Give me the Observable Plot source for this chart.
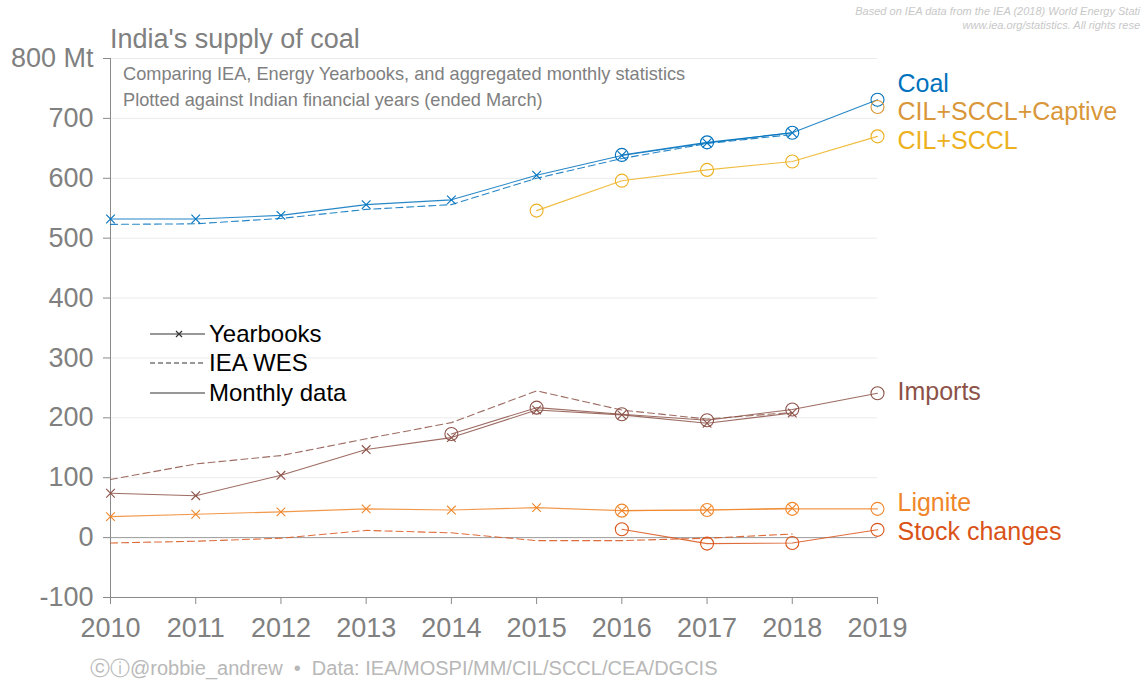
<!DOCTYPE html>
<html>
<head>
<meta charset="utf-8">
<script src="https://cdn.jsdelivr.net/npm/d3@7"></script>
<script src="https://cdn.jsdelivr.net/npm/@observablehq/plot@0.6"></script>
<style>
  html, body { margin: 0; padding: 0; background: #fff; overflow: hidden; }
  #wrap { position: relative; width: 1142px; height: 682px; overflow: hidden; font-family: "Liberation Sans", Arial, Helvetica, sans-serif; }
  #chart { position: absolute; left: 0; top: 0; }
  .abs { position: absolute; white-space: nowrap; }
  #title { left: 110px; top: 24px; font-size: 27px; color: #808080; }
  #sub { left: 123px; top: 61px; font-size: 18.2px; line-height: 26px; color: #808080; }
  #note { right: 2px; top: 4px; font-size: 11px; line-height: 14px; color: #c8c8c8; font-style: italic; text-align: right; }
  #foot { left: 90px; top: 655px; font-size: 20px; color: #b8b8b8; }
  #legend { left: 150px; top: 319px; font-size: 24px; color: #000; }
  #legend .row { height: 29.5px; display: flex; align-items: center; }
  #legend svg { margin-right: 4px; }
</style>
</head>
<body>
<div id="wrap">
  <div id="chart"></div>
  <div id="title" class="abs">India's supply of coal</div>
  <div id="sub" class="abs">Comparing IEA, Energy Yearbooks, and aggregated monthly statistics<br>Plotted against Indian financial years (ended March)</div>
  <div id="note" class="abs">Based on IEA data from the IEA (2018) World Energy Stati<br>www.iea.org/statistics. All rights rese</div>
  <div id="legend" class="abs"></div>
  <div id="foot" class="abs">ⓒⓘ@robbie_andrew &nbsp;•&nbsp; Data: IEA/MOSPI/MM/CIL/SCCL/CEA/DGCIS</div>
</div>
<script>
// ---- data (Mt) ----
const years = [2010, 2011, 2012, 2013, 2014, 2015, 2016, 2017, 2018, 2019];
const yTicks = [-100, 0, 100, 200, 300, 400, 500, 600, 700, 800];

const coalYearbooks   = [532, 532, 538, 556, 564, 605, 638, 659, 676, null];
const coalWES         = [523, 524, 533, 548, 556, 600, 633, 658, 673, null];
const coalMonthly     = [null, null, null, null, null, null, 639, 660, 676, 731];
const captiveMonthly  = [null, null, null, null, null, null, null, null, null, 719];
const cilSccl         = [null, null, null, null, null, 546, 596, 614, 628, 670];
const importsYearbooks= [74, 70, 104, 147, 167, 213, 205, 191, 208, null];
const importsWES      = [97, 123, 137, 165, 192, 245, 213, 198, 209, null];
const importsMonthly  = [null, null, null, null, 173, 217, 206, 196, 214, 241];
const ligniteYearbooks= [35, 39, 43, 48, 46, 50, 45, 46, 49, null];
const ligniteMonthly  = [null, null, null, null, null, null, 45, 46, 48, 48];
const stockWES        = [-9, -6, -1, 12, 8, -5, -5, -1, 6, null];
const stockMonthly    = [null, null, null, null, null, null, 14, -10, -9, 13];

const seriesNames  = ["Coal", "CIL+SCCL+Captive", "CIL+SCCL", "Imports", "Lignite", "Stock changes"];
const seriesColors = ["#0072bd", "#d9973a", "#edb120", "#8c5248", "#f0862a", "#d95319"];
const labelY       = [758, 710, 662, 243, 58, 10];

const color = Object.fromEntries(seriesNames.map((n, i) => [n, seriesColors[i]]));

function rows(values, series, source) {
  return years.map((year, i) => ({year, value: values[i], series, source}))
              .filter(d => d.value != null);
}

const yearbooks = [
  ...rows(coalYearbooks, "Coal", "yb"),
  ...rows(importsYearbooks, "Imports", "yb"),
  ...rows(ligniteYearbooks, "Lignite", "yb")
];
const wes = [
  ...rows(coalWES, "Coal", "wes"),
  ...rows(importsWES, "Imports", "wes"),
  ...rows(stockWES, "Stock changes", "wes")
];
const monthly = [
  ...rows(coalMonthly, "Coal", "m"),
  ...rows(captiveMonthly, "CIL+SCCL+Captive", "m"),
  ...rows(cilSccl, "CIL+SCCL", "m"),
  ...rows(importsMonthly, "Imports", "m"),
  ...rows(ligniteMonthly, "Lignite", "m"),
  ...rows(stockMonthly, "Stock changes", "m")
];
const labels = seriesNames.map((name, i) => ({name, value: labelY[i]}));

const strokeOf = d => color[d.series];

const chart = Plot.plot({
  width: 1142,
  height: 682,
  marginLeft: 110,
  marginRight: 265,
  marginTop: 58,
  marginBottom: 85,
  style: {fontFamily: '"Liberation Sans", Arial, Helvetica, sans-serif', color: "#808080", background: "transparent", overflow: "visible"},
  x: {domain: [2010, 2019]},
  y: {domain: [-100, 800]},
  marks: [
    Plot.ruleY(yTicks.filter(v => v !== -100 && v !== 0), {x1: 2010, x2: 2019, stroke: "#ebebeb", strokeWidth: 1}),
    Plot.ruleY([0], {x1: 2010, x2: 2019, stroke: "#9a9a9a", strokeWidth: 1}),
    Plot.ruleY([-100], {x1: 2010, x2: 2019, stroke: "#8a8a8a", strokeWidth: 1}),
    Plot.ruleX([2010], {y1: -100, y2: 800, stroke: "#8a8a8a", strokeWidth: 1}),
    Plot.axisY({ticks: yTicks, tickFormat: d => d === 800 ? "800 Mt" : String(d), fontSize: 27, tickSize: 7, tickPadding: 10, label: null, stroke: "#8a8a8a", fill: "#808080"}),
    Plot.axisX({ticks: years, tickFormat: d => String(d), fontSize: 27, tickSize: 7, tickPadding: 13, label: null, stroke: "#8a8a8a", fill: "#808080"}),
    Plot.line(wes, {x: "year", y: "value", z: "series", stroke: strokeOf, strokeWidth: 1.1, strokeDasharray: "7,4", strokeOpacity: 0.85}),
    Plot.line(yearbooks, {x: "year", y: "value", z: "series", stroke: strokeOf, strokeWidth: 1.1, strokeOpacity: 0.85}),
    Plot.dot(yearbooks, {x: "year", y: "value", symbol: "times", r: 4, stroke: strokeOf, strokeWidth: 1.1}),
    Plot.line(monthly, {x: "year", y: "value", z: "series", stroke: strokeOf, strokeWidth: 1.1, strokeOpacity: 0.85}),
    Plot.dot(monthly, {x: "year", y: "value", r: 6.5, fill: "none", stroke: strokeOf, strokeWidth: 1.1}),
    Plot.text(labels, {x: () => 2019, y: "value", text: "name", dx: 20, textAnchor: "start", fontSize: 25, fill: d => color[d.name]})
  ]
});
document.getElementById("chart").appendChild(chart);

// legend (line-style key)
const legendItems = ["Yearbooks", "IEA WES", "Monthly data"];
const legendDash = [null, "5,3", null];
const legendMark = [true, false, false];
const legend = d3.select("#legend");
legendItems.forEach((name, i) => {
  const row = legend.append("div").attr("class", "row");
  const s = row.append("svg").attr("width", 55).attr("height", 14);
  s.append("line").attr("x1", 0).attr("x2", 55).attr("y1", 7).attr("y2", 7)
    .attr("stroke", "#333").attr("stroke-width", 1.2)
    .attr("stroke-dasharray", legendDash[i]);
  if (legendMark[i]) {
    s.append("path").attr("d", "M26,4L32,10M26,10L32,4").attr("stroke", "#333").attr("stroke-width", 1.2);
  }
  row.append("span").text(name);
});
</script>
</body>
</html>
